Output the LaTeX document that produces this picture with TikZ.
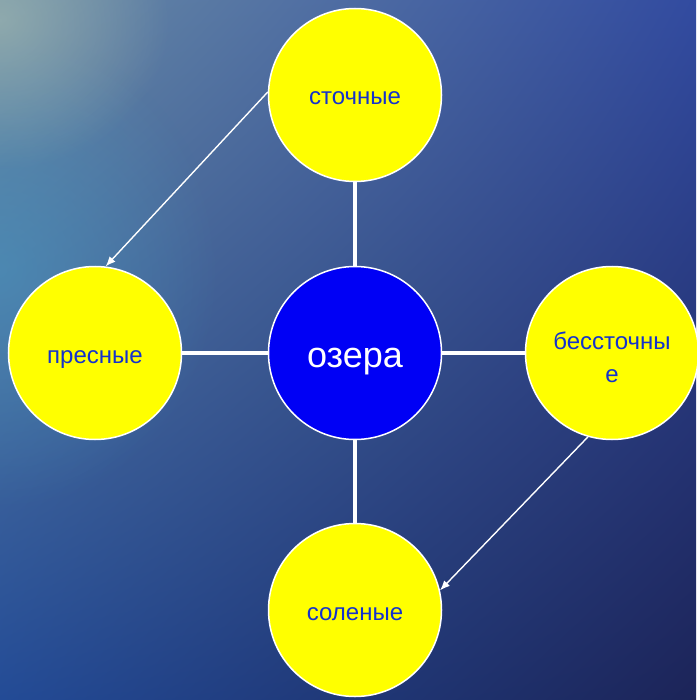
\documentclass[tikz,border=0pt]{standalone}
\usepackage{fontspec}
\setmainfont{Liberation Sans}
\usetikzlibrary{arrows.meta,fadings,shadings}
\definecolor{ylw}{RGB}{255,255,0}
\definecolor{ctr}{RGB}{0,0,245}
\definecolor{txtblue}{RGB}{20,50,205}
\definecolor{ulc}{RGB}{105,140,165}
\definecolor{urc}{RGB}{50,75,160}
\definecolor{llc}{RGB}{35,75,150}
\definecolor{lrc}{RGB}{28,36,88}
\definecolor{glowc}{RGB}{75,150,190}
\definecolor{paleglow}{RGB}{175,195,180}
\tikzfading[name=softglow, inner color=transparent!0, outer color=transparent!100]
\begin{document}
\begin{tikzpicture}[x=1pt,y=-1pt,
  bubblebase/.style={circle, minimum size=173pt, inner sep=0pt, draw=white, line width=1.5pt, fill=ylw, text=txtblue, font=\fontsize{24}{33}\selectfont, align=center},
  bubble/.style={bubblebase, text height=20pt, text depth=0pt},
  hub/.style={bubblebase, fill=ctr, text=white, font=\fontsize{36}{40}\selectfont, text height=29pt, text depth=0pt},
  caption/.style={text=txtblue, font=\fontsize{24}{33}\selectfont, align=center, inner sep=0pt},
  spoke/.style={draw=white, line width=4.5pt},
  flow/.style={draw=white, line width=1.4pt, -{Latex[length=10pt,width=8pt]}}
]
\useasboundingbox (0,0) rectangle (696,700);
% background
\shade[upper left=ulc, upper right=urc, lower left=llc, lower right=lrc] (0,0) rectangle (696,700);
\fill[glowc, path fading=softglow, fill opacity=0.6] (0,270) ellipse (220pt and 240pt);
\fill[paleglow, path fading=softglow, fill opacity=0.55] (0,20) ellipse (170pt and 150pt);
% nodes
\node[hub] (c) at (355,353) {озера};
\node[bubble] (t) at (355,95) {сточные};
\node[bubble] (l) at (95,353) {пресные};
\node[bubblebase] (r) at (612,353) {};
\node[caption] (rt) at (612,357) {бессточны\\е};
\node[bubble] (b) at (355,610) {соленые};
% spokes
\draw[spoke] (c) -- (t);
\draw[spoke] (c) -- (l);
\draw[spoke] (c) -- (r);
\draw[spoke] (c) -- (b);
% arrows
\draw[flow] (t.178) -- (l.83);
\draw[flow] (r.-106) -- (b.13);
\end{tikzpicture}
\end{document}
